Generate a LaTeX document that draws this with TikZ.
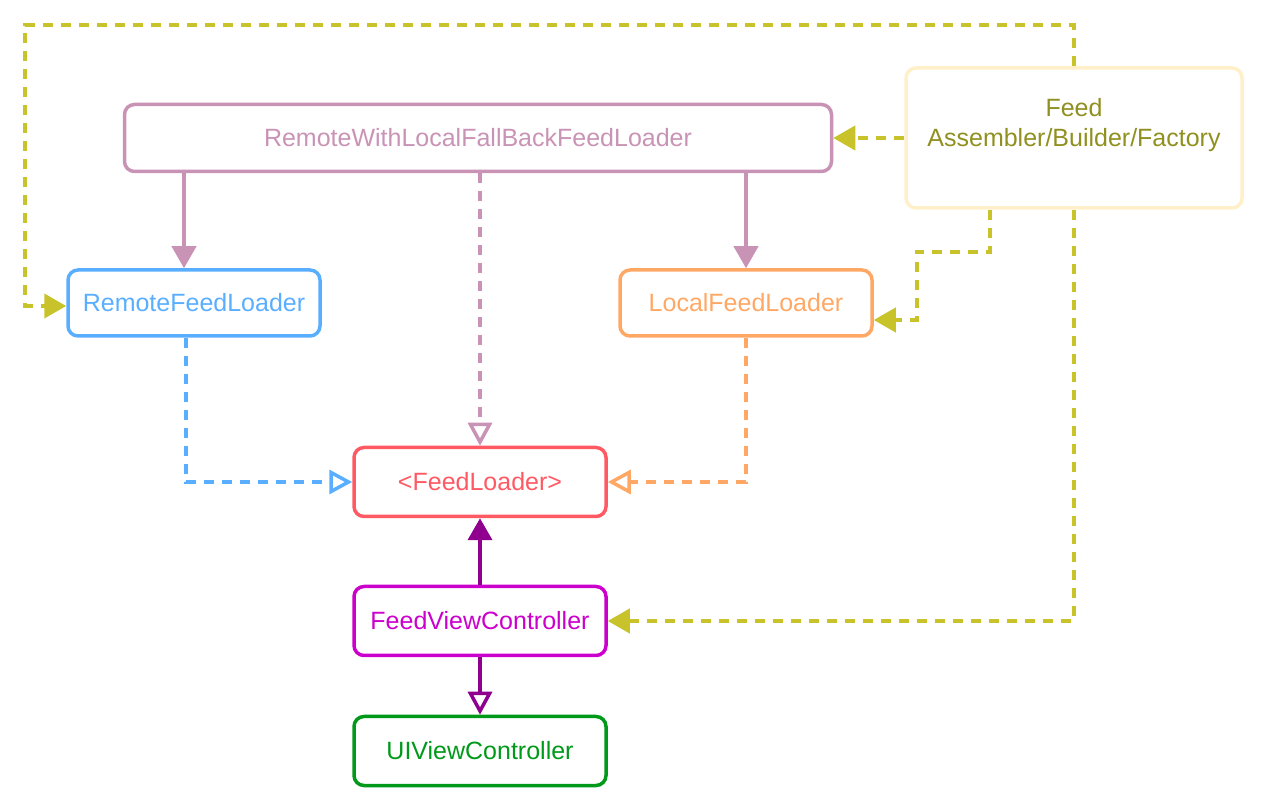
\documentclass[tikz,border=0pt]{standalone}
\usepackage{fontspec}
\setmainfont{Liberation Sans}
\usetikzlibrary{arrows.meta}

\definecolor{rwlpink}{HTML}{C993B5}
\definecolor{remoteblue}{HTML}{5AAEFF}
\definecolor{localorange}{HTML}{FFA866}
\definecolor{loaderred}{HTML}{FF5A64}
\definecolor{fvcmagenta}{HTML}{CC00CC}
\definecolor{fvcpurple}{HTML}{8F008F}
\definecolor{uigreen}{HTML}{00991A}
\definecolor{asmline}{HTML}{C8C32A}
\definecolor{asmtext}{HTML}{909020}
\definecolor{asmborder}{HTML}{FFF0C9}

\tikzset{
	box/.style={draw, line width=3.5pt, rounded corners=10pt, inner sep=0pt, font=\fontsize{25}{30}\selectfont, align=center},
	link/.style={line width=4pt},
	dashlink/.style={line width=4pt, dash pattern=on 10pt off 8pt},
	fullhead/.style={-{Triangle[length=22pt, width=24pt]}},
	openhead/.style={-{Triangle[open, length=23pt, width=24pt, line width=3.5pt]}}
}

\begin{document}
\begin{tikzpicture}[x=1pt, y=1pt]
				\useasboundingbox (0,0) rectangle (1261,798);
				\node[box, draw=rwlpink, text=rwlpink, minimum width=707pt, minimum height=67pt] (rwl)at(478, 660) {RemoteWithLocalFallBackFeedLoader};
				\node[box, draw=asmborder, minimum width=336pt, minimum height=140pt, label={[font=\fontsize{25}{30}\selectfont, text=asmtext, align=center, yshift=13pt]center:Feed\\Assembler/Builder/Factory}] (asm)at(1074, 660) {};
				\node[box, draw=remoteblue, text=remoteblue, minimum width=252pt, minimum height=66pt] (remote)at(194, 495) {RemoteFeedLoader};
				\node[box, draw=localorange, text=localorange, minimum width=252pt, minimum height=66pt] (local)at(746, 495) {LocalFeedLoader};
				\node[box, draw=loaderred, text=loaderred, minimum width=252pt, minimum height=69pt] (loader)at(480, 316) {<FeedLoader>};
				\node[box, draw=fvcmagenta, text=fvcmagenta, minimum width=252pt, minimum height=69pt] (fvc)at(480, 177) {FeedViewController};
				\node[box, draw=uigreen, text=uigreen, minimum width=252pt, minimum height=69pt] (uivc)at(480, 47) {UIViewController};
				% composite
				\draw[link, fullhead, rwlpink] ([xshift=-294pt]rwl.south) -- ([xshift=-10pt]remote.north);
				\draw[link, fullhead, rwlpink] ([xshift=268pt]rwl.south) -- (local.north);
				\draw[dashlink, openhead, rwlpink] ([xshift=2pt]rwl.south) -- (loader.north);
				% implementations
				\draw[dashlink, openhead, remoteblue] ([xshift=-8pt]remote.south) |- (loader.west);
				\draw[dashlink, openhead, localorange] (local.south) |- (loader.east);
				% controller
				\draw[link, fullhead, fvcpurple] (fvc.north) -- (loader.south);
				\draw[link, openhead, fvcpurple] (fvc.south) -- (uivc.north);
				% assembler
				\draw[dashlink, fullhead, asmline] (asm.west) -- (rwl.east);
				\draw[dashlink, fullhead, asmline] (asm.north) -- ++(0,41) -| ([xshift=-41pt, yshift=-3pt]remote.west) -- ([yshift=-3pt]remote.west);
				\draw[dashlink, fullhead, asmline] ([xshift=-84pt]asm.south) -- ++(0,-42) -| ([xshift=43pt, yshift=-17pt]local.east) -- ([yshift=-17pt]local.east);
				\draw[dashlink, fullhead, asmline] (asm.south) |- (fvc.east);
			\end{tikzpicture}
\end{document}
